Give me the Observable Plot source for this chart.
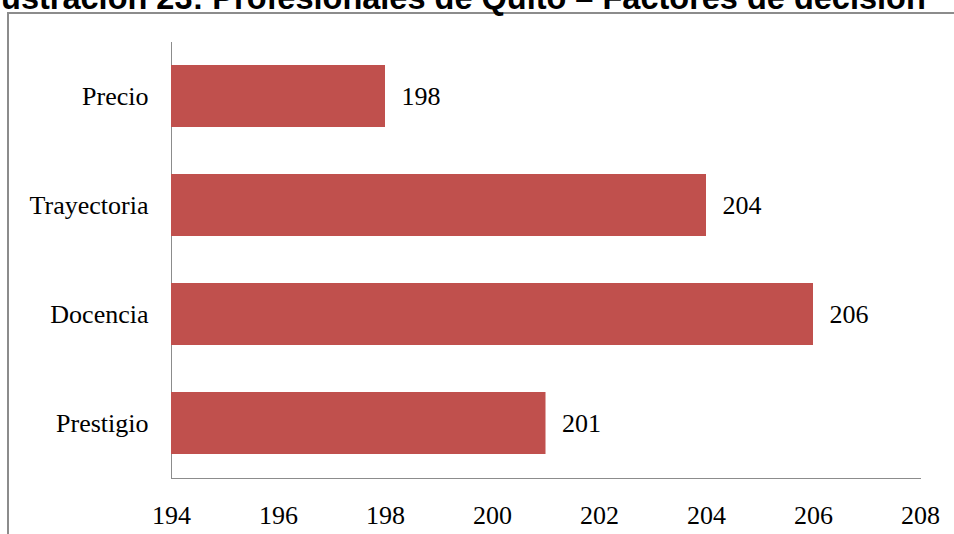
<!DOCTYPE html>
<html>
<head>
<meta charset="utf-8">
<script src="https://cdn.jsdelivr.net/npm/d3@7"></script>
<script src="https://cdn.jsdelivr.net/npm/@observablehq/plot@0.6"></script>
<style>
  html, body { margin: 0; padding: 0; background: #fff; }
  #wrap { position: relative; width: 954px; height: 534px; overflow: hidden; }
  #title { position: absolute; left: -17px; top: -18px; white-space: nowrap;
    font: bold 32.5px "Liberation Sans", Arial, sans-serif; line-height: 32.5px; color: #000; }
  #frame { position: absolute; left: 7px; top: 12px; width: 1000px; height: 600px;
    border-left: 2px solid #8c8c8c; border-top: 2px solid #8c8c8c; box-sizing: border-box; }
  #chart { position: absolute; left: 0; top: 0; }
  #chart svg text { fill: #000; }
</style>
</head>
<body>
<div id="wrap">
  <div id="frame"></div>
  <div id="title">Ilustración 23: Profesionales de Quito – Factores de decisión</div>
  <div id="chart"></div>
</div>
<script>
const categories = ["Precio", "Trayectoria", "Docencia", "Prestigio"];
const values = [198, 204, 206, 201];
const xTicks = [194, 196, 198, 200, 202, 204, 206, 208];

const data = categories.map((c, i) => ({ factor: c, value: values[i] }));

const chart = Plot.plot({
  width: 954,
  height: 534,
  marginLeft: 171,
  marginRight: 34,
  marginTop: 42,
  marginBottom: 56,
  style: { fontFamily: "'Liberation Serif', 'Times New Roman', serif", fontSize: "26px", color: "#8c8c8c", background: "transparent" },
  x: { domain: [194, 208], ticks: xTicks, tickSize: 0, tickPadding: 27, line: true, label: null, tickFormat: d => String(d) },
  y: { domain: categories, paddingInner: 0.43, paddingOuter: 0.215, tickSize: 0, tickPadding: 23, line: true, label: null },
  marks: [
    Plot.barX(data, { x1: 194, x2: "value", y: "factor", fill: "#C0504D" }),
    Plot.text(data, { x: "value", y: "factor", text: d => String(d.value), dx: 16, textAnchor: "start", fill: "#000", fontSize: 26 })
  ]
});
document.getElementById("chart").appendChild(chart);
</script>
</body>
</html>
